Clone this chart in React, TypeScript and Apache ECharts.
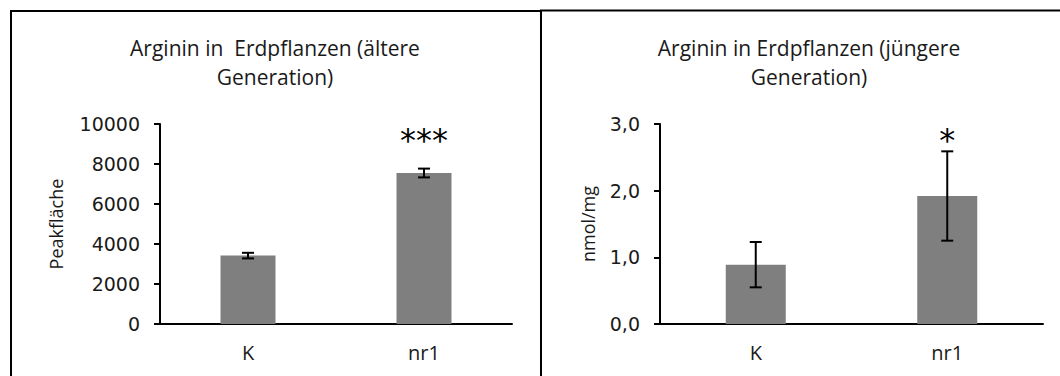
import React, { useEffect, useRef } from "react";
import * as echarts from "echarts";

// Categories shared by both panels
const categories = ["K", "nr1"];

// Older generation: peak area (mean ± error) and significance marks
const olderMeans = [3420, 7550];
const olderErrors = [140, 220];
const olderSig = ["", "***"];
const olderSigLevel = 9500;
const olderTicks = { min: 0, max: 10000, interval: 2000 };

// Younger generation: nmol/mg (mean ± error) and significance marks
const youngerMeans = [0.89, 1.92];
const youngerErrors = [0.34, 0.67];
const youngerSig = ["", "*"];
const youngerSigLevel = 2.85;
const youngerTicks = { min: 0, max: 3, interval: 1 };

const TEXT = "#1a1a1a";
const BAR = "#7f7f7f";

function errorBarSeries(means: number[], errs: number[], idx: number) {
  return {
    type: "custom",
    xAxisIndex: idx,
    yAxisIndex: idx,
    z: 5,
    encode: { x: 0, y: 1 },
    data: means.map((m, i) => [i, m, errs[i]]),
    renderItem: (_params: any, api: any) => {
      const i = api.value(0);
      const m = api.value(1);
      const e = api.value(2);
      const top = api.coord([i, m + e]);
      const bot = api.coord([i, m - e]);
      const half = 6;
      const style = { stroke: "#000", lineWidth: 2 };
      return {
        type: "group",
        children: [
          { type: "line", shape: { x1: top[0], y1: top[1], x2: bot[0], y2: bot[1] }, style },
          { type: "line", shape: { x1: top[0] - half, y1: top[1], x2: top[0] + half, y2: top[1] }, style },
          { type: "line", shape: { x1: bot[0] - half, y1: bot[1], x2: bot[0] + half, y2: bot[1] }, style },
        ],
      };
    },
  };
}

function sigSeries(sig: string[], level: number, idx: number) {
  const marks = sig.map((s, i) => [i, level, s] as [number, number, string]).filter((d) => d[2] !== "");
  return {
    type: "custom",
    xAxisIndex: idx,
    yAxisIndex: idx,
    z: 6,
    encode: { x: 0, y: 1 },
    data: marks.map((d) => [d[0], d[1]]),
    renderItem: (params: any, api: any) => {
      const p = api.coord([api.value(0), api.value(1)]);
      return {
        type: "text",
        x: p[0],
        y: p[1] + 6,
        style: {
          text: marks[params.dataIndex][2],
          fill: "#000",
          font: "32px 'DejaVu Sans'",
          align: "center",
          verticalAlign: "middle",
        },
      };
    },
  };
}

export default function App() {
  const ref = useRef<HTMLDivElement>(null);

  useEffect(() => {
    if (!ref.current) return;
    const chart = echarts.init(ref.current, undefined, { renderer: "svg" });

    const axisLine = { show: true, lineStyle: { color: "#000", width: 2 } };
    const axisTick = { show: true, length: 6, lineStyle: { color: "#000", width: 2 } };
    const tickLabel = {
      color: TEXT,
      fontFamily: "DejaVu Sans",
      fontSize: 19,
      margin: 20,
    };
    const catLabel = {
      color: TEXT,
      fontFamily: "Open Sans",
      fontSize: 20,
      margin: 18,
    };
    const nameStyle = {
      color: TEXT,
      fontFamily: "Open Sans",
      fontSize: 18,
    };
    const titleStyle = {
      color: TEXT,
      fontFamily: "Open Sans",
      fontSize: 21,
      fontWeight: "normal" as const,
      lineHeight: 29,
    };

    chart.setOption({
      animation: false,
      backgroundColor: "#fff",
      title: [
        {
          text: "Arginin in  Erdpflanzen (ältere\nGeneration)",
          left: 275,
          top: 33,
          textAlign: "center",
          padding: 0,
          textStyle: titleStyle,
        },
        {
          text: "Arginin in Erdpflanzen (jüngere\nGeneration)",
          left: 809,
          top: 33,
          textAlign: "center",
          padding: 0,
          textStyle: titleStyle,
        },
      ],
      grid: [
        { left: 160, top: 124, width: 352, height: 200 },
        { left: 660, top: 124, width: 383, height: 200 },
      ],
      xAxis: [0, 1].map((g) => ({
        type: "category",
        gridIndex: g,
        data: categories,
        axisLine,
        axisTick: { show: false },
        axisLabel: catLabel,
      })),
      yAxis: [
        {
          type: "value",
          gridIndex: 0,
          ...olderTicks,
          name: "Peakfläche",
          nameLocation: "middle",
          nameGap: 95,
          nameTextStyle: nameStyle,
          axisLine,
          axisTick,
          axisLabel: { ...tickLabel, formatter: (v: number) => String(v) },
          splitLine: { show: false },
        },
        {
          type: "value",
          gridIndex: 1,
          ...youngerTicks,
          name: "nmol/mg",
          nameLocation: "middle",
          nameGap: 63,
          nameTextStyle: nameStyle,
          axisLine,
          axisTick,
          axisLabel: {
            ...tickLabel,
            formatter: (v: number) => v.toFixed(1).replace(".", ","),
          },
          splitLine: { show: false },
        },
      ],
      series: [
        {
          type: "bar",
          xAxisIndex: 0,
          yAxisIndex: 0,
          data: olderMeans,
          barWidth: 55,
          itemStyle: { color: BAR },
        },
        {
          type: "bar",
          xAxisIndex: 1,
          yAxisIndex: 1,
          data: youngerMeans,
          barWidth: 60,
          itemStyle: { color: BAR },
        },
        errorBarSeries(olderMeans, olderErrors, 0),
        errorBarSeries(youngerMeans, youngerErrors, 1),
        sigSeries(olderSig, olderSigLevel, 0),
        sigSeries(youngerSig, youngerSigLevel, 1),
      ],
      graphic: [
        {
          type: "rect",
          shape: { x: 11, y: 11, width: 530, height: 500 },
          style: { fill: "none", stroke: "#000", lineWidth: 2 },
          silent: true,
        },
        {
          type: "rect",
          shape: { x: 541, y: 10.5, width: 600, height: 500 },
          style: { fill: "none", stroke: "#000", lineWidth: 2 },
          silent: true,
        },
      ],
    });

    return () => chart.dispose();
  }, []);

  return (
    <div
      ref={ref}
      style={{ position: "fixed", left: 0, top: 0, width: 1060, height: 376, background: "#fff" }}
    />
  );
}
